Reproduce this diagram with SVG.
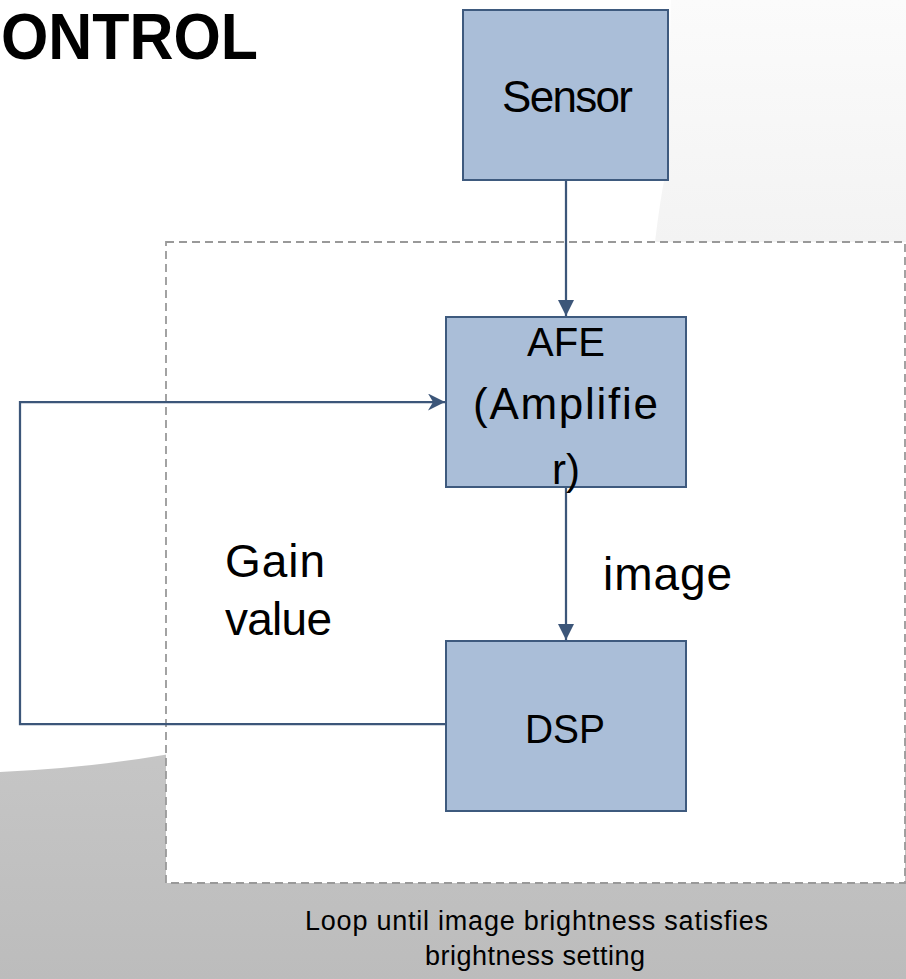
<svg xmlns="http://www.w3.org/2000/svg" width="906" height="979" viewBox="0 0 906 979">
  <defs>
    <linearGradient id="floorGrad" x1="0" y1="740" x2="0" y2="979" gradientUnits="userSpaceOnUse">
      <stop offset="0" stop-color="#c6c6c6"/>
      <stop offset="1" stop-color="#bcbcbc"/>
    </linearGradient>
    <linearGradient id="wallGrad" x1="0" y1="0" x2="0" y2="242" gradientUnits="userSpaceOnUse">
      <stop offset="0" stop-color="#fbfbfb"/>
      <stop offset="1" stop-color="#f3f3f3"/>
    </linearGradient>
    <marker id="tri" viewBox="0 0 10 10" refX="10" refY="5" markerWidth="16" markerHeight="16" markerUnits="userSpaceOnUse" orient="auto">
      <path d="M0,0 L10,5 L0,10 Z" fill="#3c5679"/>
    </marker>
    <marker id="stealth" viewBox="0 0 10 10" refX="10" refY="5" markerWidth="17" markerHeight="17" markerUnits="userSpaceOnUse" orient="auto">
      <path d="M0,0 L10,5 L0,10 L3,5 Z" fill="#3c5679"/>
    </marker>
  </defs>
  <style>
    .box { fill: #aabed8; stroke: #3e5a7e; stroke-width: 2; }
    .lbl { font-family: "Liberation Sans", Arial, sans-serif; fill: #000; }
    .wire { fill: none; stroke: #3c5679; stroke-width: 2.25; }
    .frame { fill: #ffffff; stroke: #999999; stroke-width: 1.8; stroke-dasharray: 8 5; }
  </style>

  <!-- backdrop -->
  <rect x="0" y="0" width="906" height="979" fill="#ffffff"/>
  <path d="M671,0 L906,0 L906,242 L655,242 Q660,200 666,170 Q669,80 671,0 Z" fill="url(#wallGrad)"/>
  <path d="M0,772 Q90,768 170,754 L906,730 L906,979 L0,979 Z" fill="url(#floorGrad)"/>

  <!-- heading -->
  <text class="lbl" x="1" y="59" font-size="65" font-weight="bold" textLength="257" lengthAdjust="spacingAndGlyphs">ONTROL</text>

  <!-- loop boundary -->
  <rect id="loop-frame" class="frame" x="166" y="242" width="739" height="641"/>

  <!-- connectors -->
  <g id="connectors">
    <line class="wire" x1="566" y1="181" x2="566" y2="316" marker-end="url(#tri)"/>
    <line class="wire" x1="566" y1="488" x2="566" y2="640" marker-end="url(#tri)"/>
    <polyline class="wire" points="445,724 20,724 20,402 445,402" marker-end="url(#stealth)"/>
    <text class="lbl" x="603" y="590" font-size="46" textLength="129">image</text>
    <text class="lbl" x="225" y="577" font-size="46" textLength="100">Gain</text>
    <text class="lbl" x="225" y="635" font-size="46" textLength="107">value</text>
  </g>

  <!-- nodes -->
  <g id="sensor">
    <rect class="box" x="463" y="10" width="205" height="170"/>
    <text class="lbl" x="502" y="112" font-size="44" textLength="131">Sensor</text>
  </g>
  <g id="afe">
    <rect class="box" x="446" y="317" width="240" height="170"/>
    <text class="lbl" x="566" y="356" font-size="40" text-anchor="middle">AFE</text>
    <text class="lbl" x="473" y="419" font-size="44" textLength="185">(Amplifie</text>
    <text class="lbl" x="552" y="484" font-size="42">r)</text>
  </g>
  <g id="dsp">
    <rect class="box" x="446" y="641" width="240" height="170"/>
    <text class="lbl" x="525" y="743" font-size="41" textLength="80" lengthAdjust="spacingAndGlyphs">DSP</text>
  </g>

  <!-- caption -->
  <g id="caption">
    <text class="lbl" x="305" y="930" font-size="27" textLength="463">Loop until image brightness satisfies</text>
    <text class="lbl" x="425" y="965" font-size="27" textLength="220">brightness setting</text>
  </g>
</svg>
